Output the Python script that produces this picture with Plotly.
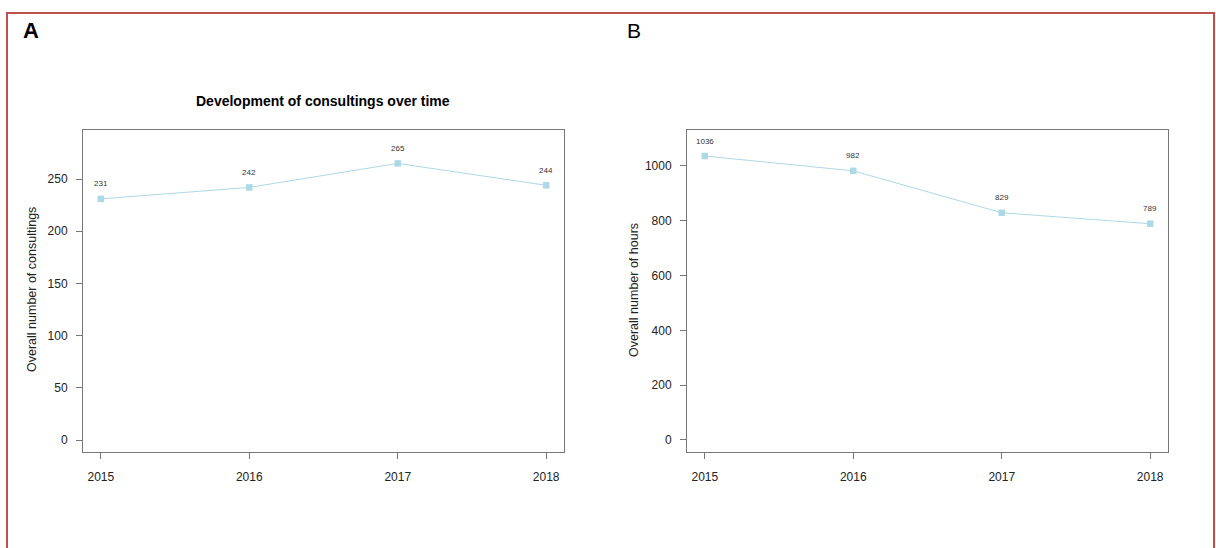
import plotly.graph_objects as go

years = [2015, 2016, 2017, 2018]
consultings = [231, 242, 265, 244]
hours = [1036, 982, 829, 789]
year_labels = ["2015", "2016", "2017", "2018"]
ticks_a = [0, 50, 100, 150, 200, 250]
ticks_b = [0, 200, 400, 600, 800, 1000]

W, H = 1216, 548
LB = "lightblue"
FONT = "Liberation Sans, Arial, sans-serif"

fig = go.Figure()
fig.add_trace(go.Scatter(x=years, y=consultings, mode="lines+markers",
                         line=dict(color=LB, width=1),
                         marker=dict(symbol="square", size=6.5, color=LB),
                         xaxis="x", yaxis="y", showlegend=False, hoverinfo="x+y"))
fig.add_trace(go.Scatter(x=years, y=hours, mode="lines+markers",
                         line=dict(color=LB, width=1),
                         marker=dict(symbol="square", size=6.5, color=LB),
                         xaxis="x2", yaxis="y2", showlegend=False, hoverinfo="x+y"))

annotations = []
for xv, yv in zip(years, consultings):
    annotations.append(dict(x=xv, y=yv, xref="x", yref="y", text=str(yv), showarrow=False,
                            yshift=15, font=dict(size=8, color="#333", family=FONT)))
for xv, yv in zip(years, hours):
    annotations.append(dict(x=xv, y=yv, xref="x2", yref="y2", text=str(yv), showarrow=False,
                            yshift=15, font=dict(size=8, color="#333", family=FONT)))

def px_x(p):
    return p / W

def px_y(p):
    return 1 - p / H

annotations += [
    dict(x=px_x(31), y=px_y(31), xref="paper", yref="paper", text="<b>A</b>", showarrow=False,
         font=dict(size=22, color="black", family=FONT), xanchor="center", yanchor="middle"),
    dict(x=px_x(634), y=px_y(31), xref="paper", yref="paper", text="B", showarrow=False,
         font=dict(size=21, color="black", family=FONT), xanchor="center", yanchor="middle"),
    dict(x=px_x(323), y=px_y(101), xref="paper", yref="paper",
         text="<b>Development of consultings over time</b>", showarrow=False,
         font=dict(size=14, color="black", family=FONT), xanchor="center", yanchor="middle"),
    dict(x=px_x(32), y=px_y(290), xref="paper", yref="paper", text="Overall number of consultings",
         showarrow=False, textangle=-90, font=dict(size=12.5, color="#222", family=FONT),
         xanchor="center", yanchor="middle"),
    dict(x=px_x(634), y=px_y(290), xref="paper", yref="paper", text="Overall number of hours",
         showarrow=False, textangle=-90, font=dict(size=12.5, color="#222", family=FONT),
         xanchor="center", yanchor="middle"),
]

axcommon = dict(showgrid=False, zeroline=False, showline=True, linecolor="#777", linewidth=1,
                mirror=True, ticks="outside", ticklen=6, tickcolor="#777",
                tickfont=dict(size=12, color="#222", family=FONT))

ydom = [px_y(452), px_y(130)]
fig.update_layout(
    width=W, height=H, margin=dict(l=0, r=0, t=0, b=0),
    paper_bgcolor="white", plot_bgcolor="white",
    xaxis=dict(domain=[px_x(83), px_x(564)], range=[2014.88, 2018.12], anchor="y",
               tickvals=years, ticktext=year_labels, ticklabelstandoff=8, **axcommon),
    yaxis=dict(domain=ydom, range=[-11.5, 297], anchor="x", tickvals=ticks_a,
               ticklabelstandoff=6, **axcommon),
    xaxis2=dict(domain=[px_x(687), px_x(1168)], range=[2014.88, 2018.12], anchor="y2",
                tickvals=years, ticktext=year_labels, ticklabelstandoff=8, **axcommon),
    yaxis2=dict(domain=ydom, range=[-44, 1131], anchor="x2", tickvals=ticks_b,
                ticklabelstandoff=6, **axcommon),
    annotations=annotations,
    shapes=[dict(type="rect", xref="paper", yref="paper", x0=px_x(7), x1=px_x(1214),
                 y0=-0.2, y1=px_y(13), line=dict(color="#c0504d", width=2))],
)

fig.write_html("out.html", config={"displayModeBar": False},
               post_script="document.body.style.margin='0';document.body.style.overflow='hidden';")
